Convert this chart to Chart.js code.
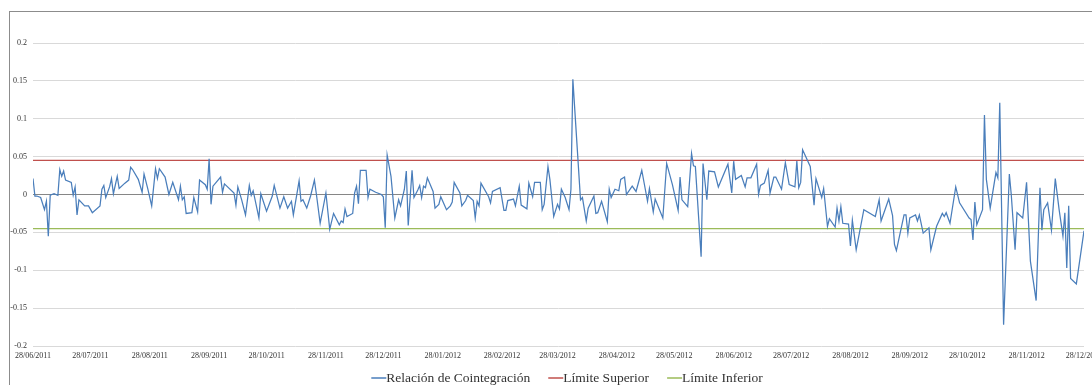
<!DOCTYPE html>
<html>
<head>
<meta charset="utf-8">
<script src="https://cdn.jsdelivr.net/npm/chart.js@4.4.1/dist/chart.umd.min.js"></script>
<style>
  html, body { margin: 0; padding: 0; background: #fff; overflow: hidden; }
  #marco { position: absolute; left: 9px; top: 11px; width: 1200px; height: 500px;
           border-left: 1px solid #8c8c8c; border-top: 1px solid #8c8c8c; }
  #grafico { position: absolute; left: 0; top: 0; }
</style>
</head>
<body>
<div id="marco"></div>
<canvas id="grafico" width="1092" height="385"></canvas>
<script>
// dias desde el 28/06/2011 (lectura aproximada del grafico)
const dias = [
  0, 1, 2, 4, 6, 7, 8, 9, 11, 13, 14, 15, 16, 17, 20, 21, 22, 23, 24, 27,
  29, 31, 35, 36, 37, 38, 40, 41, 42, 44, 45, 48, 50, 51, 52, 55, 57, 58, 60, 62,
  64, 65, 66, 69, 71, 73, 76, 77, 78, 79, 80, 83, 84, 86, 87, 90, 91, 92, 93, 94,
  98, 99, 100, 105, 106, 107, 109, 111, 113, 114, 115, 118, 119, 122, 125, 126, 129, 131, 133, 135,
  136, 139, 140, 141, 143, 145, 147, 148, 150, 153, 155, 157, 160, 161, 162, 163, 164, 167, 168, 169,
  170, 171, 174, 175, 176, 179, 182, 183, 184, 185, 187, 189, 191, 192, 194, 195, 196, 198, 199, 201,
  202, 203, 204, 205, 206, 209, 210, 212, 213, 216, 218, 219, 220, 223, 224, 226, 227, 230, 231, 232,
  233, 234, 238, 239, 240, 244, 246, 247, 248, 251, 252, 254, 255, 258, 259, 261, 262, 265, 266, 267,
  269, 270, 272, 274, 275, 276, 278, 280, 281, 282, 286, 287, 289, 290, 293, 294, 295, 297, 300, 301,
  302, 304, 306, 307, 309, 310, 313, 315, 318, 321, 322, 324, 325, 329, 331, 334, 337, 338, 339, 342,
  344, 345, 346, 349, 350, 352, 353, 356, 358, 363, 365, 366, 367, 370, 372, 373, 375, 378, 379, 380,
  382, 384, 385, 387, 388, 391, 393, 395, 398, 399, 400, 401, 402, 406, 408, 409, 412, 413, 415, 416,
  419, 420, 421, 422, 423, 426, 427, 428, 430, 434, 440, 442, 443, 447, 449, 450, 451, 455, 456, 457,
  458, 461, 462, 463, 465, 468, 469, 472, 475, 476, 477, 479, 482, 484, 489, 490, 491, 492, 493, 496,
  497, 498, 500, 503, 504, 505, 507, 510, 511, 513, 514, 517, 519, 521, 524, 526, 527, 528, 530, 532,
  534, 536, 538, 539, 540, 541, 542, 545, 549
];

const relacion = [
  0.021, -0.002, -0.002, -0.004, -0.020, -0.009, -0.055, -0.001, 0.001, -0.001, 0.033, 0.024, 0.031, 0.019, 0.016, -0.001, 0.010, -0.027, -0.007, -0.015,
  -0.015, -0.024, -0.015, 0.007, 0.012, -0.004, 0.010, 0.021, 0.001, 0.024, 0.008, 0.015, 0.019, 0.036, 0.033, 0.020, 0.003, 0.027, 0.007, -0.015,
  0.034, 0.021, 0.034, 0.023, 0.000, 0.016, -0.007, 0.011, -0.007, -0.003, -0.025, -0.024, -0.004, -0.023, 0.019, 0.013, 0.007, 0.047, -0.013, 0.011,
  0.023, 0.003, 0.014, 0.002, -0.014, 0.010, -0.007, -0.027, 0.012, -0.001, 0.005, -0.031, 0.001, -0.022, -0.002, 0.012, -0.018, -0.003, -0.018, -0.009,
  -0.027, 0.018, -0.009, -0.007, -0.018, -0.002, 0.019, 0.001, -0.038, 0.002, -0.046, -0.025, -0.040, -0.035, -0.037, -0.019, -0.029, -0.025, 0.002, 0.011,
  -0.012, 0.032, 0.032, -0.004, 0.007, 0.003, 0.000, -0.003, -0.044, 0.052, 0.024, -0.031, -0.007, -0.015, 0.007, 0.031, -0.041, 0.032, -0.004, 0.006,
  0.012, -0.004, 0.011, 0.009, 0.022, 0.004, -0.018, -0.013, -0.003, -0.020, -0.015, -0.010, 0.016, 0.002, -0.015, -0.008, -0.001, -0.008, -0.031, -0.009,
  -0.015, 0.015, -0.003, -0.011, 0.004, 0.009, -0.021, -0.021, -0.008, -0.006, -0.015, 0.011, -0.014, -0.019, 0.015, -0.003, 0.016, 0.016, -0.020, -0.013,
  0.037, 0.020, -0.029, -0.013, -0.019, 0.007, -0.004, -0.020, 0.007, 0.152, -0.007, -0.004, -0.035, -0.018, -0.002, -0.025, -0.024, -0.009, -0.036, 0.007,
  -0.004, 0.007, 0.005, 0.020, 0.023, 0.000, 0.011, 0.004, 0.032, -0.009, 0.008, -0.023, -0.006, -0.031, 0.041, 0.013, -0.021, 0.023, -0.007, -0.016,
  0.054, 0.038, 0.037, -0.082, 0.041, -0.007, 0.031, 0.030, 0.010, 0.040, 0.002, 0.044, 0.020, 0.025, 0.010, 0.022, 0.022, 0.040, 0.000, 0.012,
  0.015, 0.032, 0.002, 0.023, 0.023, 0.007, 0.042, 0.013, 0.010, 0.044, 0.009, 0.016, 0.059, 0.037, -0.014, 0.021, -0.004, 0.008, -0.042, -0.032,
  -0.043, -0.018, -0.035, -0.016, -0.038, -0.039, -0.068, -0.034, -0.073, -0.020, -0.029, -0.007, -0.035, -0.006, -0.028, -0.066, -0.074, -0.027, -0.027, -0.051,
  -0.031, -0.027, -0.035, -0.027, -0.051, -0.044, -0.073, -0.042, -0.025, -0.029, -0.024, -0.038, 0.010, -0.011, -0.031, -0.033, -0.060, -0.010, -0.040, -0.020,
  0.105, 0.020, -0.018, 0.029, 0.022, 0.121, -0.172, 0.027, 0.000, -0.073, -0.024, -0.031, 0.016, -0.088, -0.140, 0.009, -0.047, -0.020, -0.011, -0.047,
  0.021, -0.020, -0.055, -0.024, -0.097, -0.015, -0.111, -0.118, -0.048
];

const limiteSuperior = 0.045;
const limiteInferior = -0.045;

const etiquetasX = [
  '28/06/2011', '28/07/2011', '28/08/2011', '28/09/2011', '28/10/2011', '28/11/2011',
  '28/12/2011', '28/01/2012', '28/02/2012', '28/03/2012', '28/04/2012', '28/05/2012',
  '28/06/2012', '28/07/2012', '28/08/2012', '28/09/2012', '28/10/2012', '28/11/2012', '28/12/2012'
];
const etiquetasY = [-0.2, -0.15, -0.1, -0.05, 0, 0.05, 0.1, 0.15, 0.2];

const nombres = ['Relación de Cointegración', 'Límite Superior', 'Límite Inferior'];
const colores = ['#4a7ebb', '#c0504d', '#9bbb59'];

const inicio = new Date(2011, 5, 28);
function diaDe(txt) {
  const [d, m, a] = txt.split('/').map(Number);
  return Math.round((new Date(a, m - 1, d) - inicio) / 86400000);
}
const diaFinal = diaDe(etiquetasX[etiquetasX.length - 1]);

// leyenda dibujada a mano: linea pegada al texto, como en Excel
const leyenda = {
  id: 'leyenda',
  afterDraw(chart) {
    const ctx = chart.ctx;
    ctx.save();
    ctx.font = '13.5px "Liberation Serif"';
    ctx.textBaseline = 'middle';
    const largo = 15, sep = 18;
    const anchos = nombres.map(n => ctx.measureText(n).width);
    const total = anchos.reduce((s, w) => s + w + largo, 0) + sep * (nombres.length - 1);
    let x = 567 - total / 2;
    const y = 378;
    nombres.forEach((n, i) => {
      ctx.strokeStyle = colores[i];
      ctx.lineWidth = 1.5;
      ctx.beginPath();
      ctx.moveTo(x, y);
      ctx.lineTo(x + largo, y);
      ctx.stroke();
      ctx.fillStyle = '#333333';
      ctx.fillText(n, x + largo, y + 0.5);
      x += largo + anchos[i] + sep;
    });
    ctx.restore();
  }
};

const serie = dias.map((d, i) => ({ x: d, y: relacion[i] }));

new Chart(document.getElementById('grafico'), {
  type: 'line',
  data: {
    datasets: [
      {
        label: nombres[0],
        data: serie,
        borderColor: colores[0],
        borderWidth: 1.25,
        pointRadius: 0,
        tension: 0,
        order: 1
      },
      {
        label: nombres[1],
        data: [{ x: 0, y: limiteSuperior }, { x: diaFinal, y: limiteSuperior }],
        borderColor: colores[1],
        borderWidth: 1.25,
        pointRadius: 0,
        order: 2
      },
      {
        label: nombres[2],
        data: [{ x: 0, y: limiteInferior }, { x: diaFinal, y: limiteInferior }],
        borderColor: colores[2],
        borderWidth: 1.25,
        pointRadius: 0,
        order: 3
      }
    ]
  },
  options: {
    responsive: false,
    animation: false,
    devicePixelRatio: 1,
    layout: { padding: { left: 0, right: 8, top: 43, bottom: 19 } },
    plugins: {
      legend: { display: false },
      tooltip: { enabled: false }
    },
    scales: {
      x: {
        type: 'linear',
        min: 0,
        max: diaFinal,
        border: { display: false },
        grid: { display: false, drawTicks: false },
        afterBuildTicks(scale) {
          scale.ticks = etiquetasX.map(t => ({ value: diaDe(t) }));
        },
        afterFit(scale) {
          scale.height = 20;
          scale.paddingLeft = 0;
          scale.paddingRight = 0;
        },
        ticks: {
          autoSkip: false,
          maxRotation: 0,
          padding: 5,
          color: '#333333',
          font: { family: '"Liberation Serif"', size: 8 },
          callback(v) {
            const i = etiquetasX.findIndex(t => diaDe(t) === v);
            return i >= 0 ? etiquetasX[i] : '';
          }
        }
      },
      y: {
        min: -0.2,
        max: 0.2,
        border: { display: false },
        afterBuildTicks(scale) {
          scale.ticks = etiquetasY.map(v => ({ value: v }));
        },
        afterFit(scale) {
          scale.width = 33;
        },
        grid: {
          drawTicks: false,
          lineWidth: 1,
          color: ctx => (ctx.tick && Math.abs(ctx.tick.value) < 1e-9) ? '#868686' : '#d9d9d9'
        },
        ticks: {
          padding: 6,
          color: '#333333',
          font: { family: '"Liberation Serif"', size: 8 },
          callback: v => String(Number(v.toFixed(2)))
        }
      }
    }
  },
  plugins: [leyenda]
});
</script>
</body>
</html>
